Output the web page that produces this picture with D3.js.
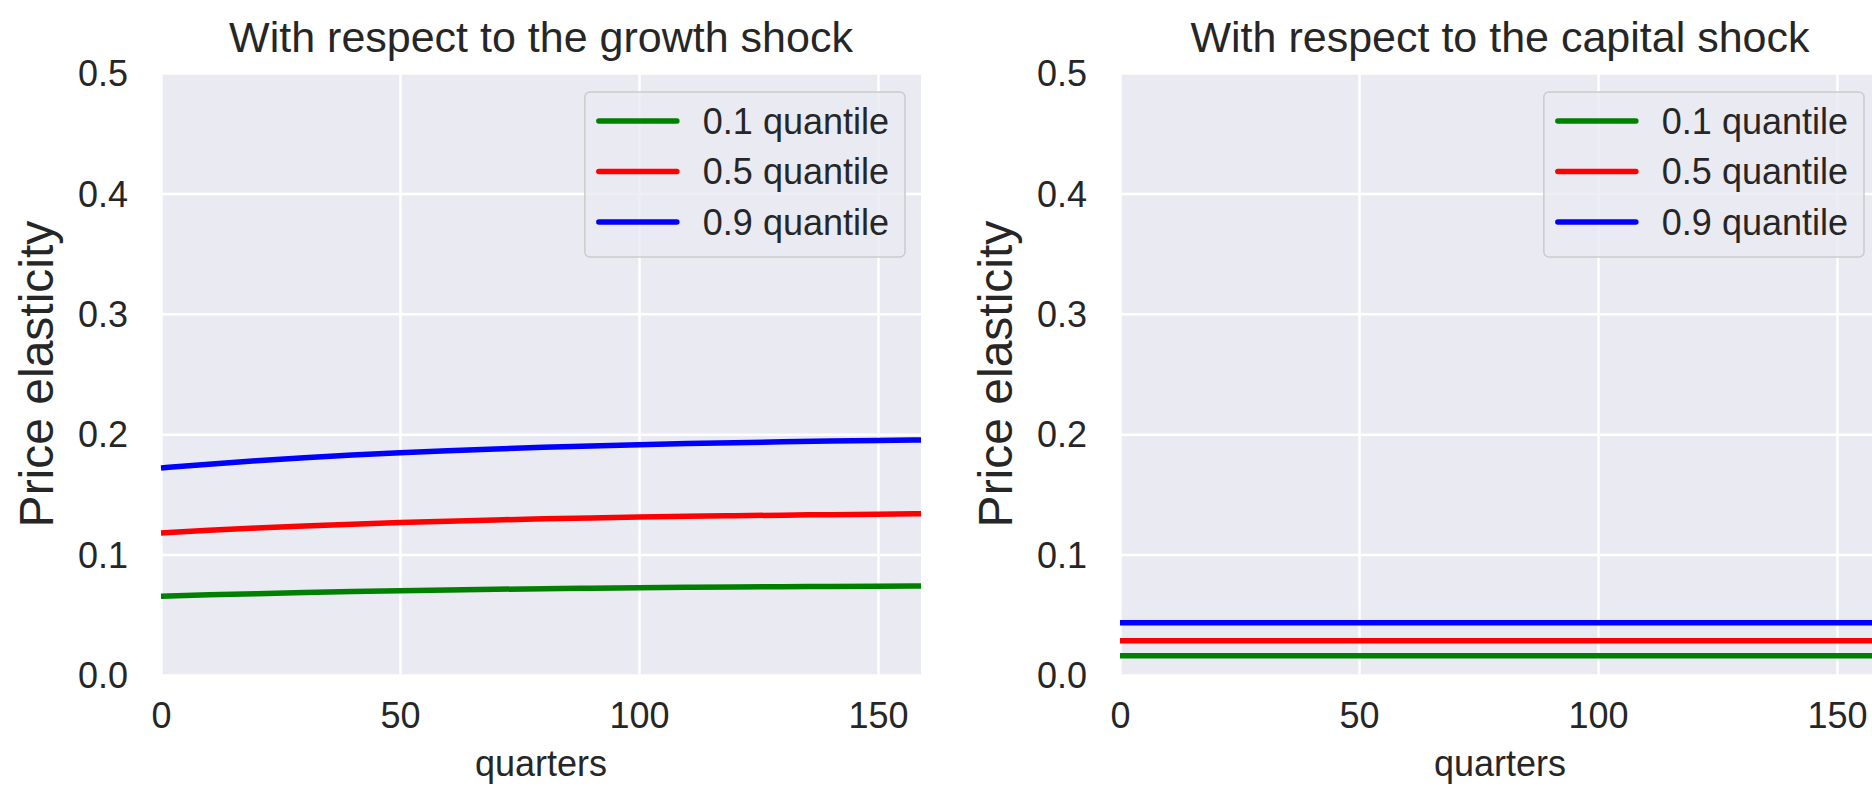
<!DOCTYPE html>
<html>
<head>
<meta charset="utf-8">
<script src="https://cdn.jsdelivr.net/npm/d3@7"></script>
<style>
  html, body { margin: 0; padding: 0; background: #ffffff; }
  svg { display: block; }
  text { font-family: "Liberation Sans", Arial, sans-serif; fill: #262626; }
</style>
</head>
<body>
<svg id="chart" width="1872" height="786"></svg>
<script>
// ---- data ----
const quarters = [0, 10, 20, 30, 40, 50, 60, 70, 80, 90, 100, 110, 120, 130, 140, 150, 159];
const seriesNames = ["0.1 quantile", "0.5 quantile", "0.9 quantile"];
const seriesColors = ["#008000", "#ff0000", "#0000ff"];

// Panel 1: with respect to the growth shock
const growthQ10 = [0.0655, 0.0666, 0.0676, 0.0685, 0.0693, 0.0700, 0.0706, 0.0712, 0.0717, 0.0721, 0.0725, 0.0728, 0.0731, 0.0734, 0.0736, 0.0738, 0.0740];
const growthQ50 = [0.1180, 0.1202, 0.1221, 0.1238, 0.1253, 0.1266, 0.1278, 0.1288, 0.1297, 0.1305, 0.1312, 0.1318, 0.1323, 0.1328, 0.1332, 0.1336, 0.1339];
const growthQ90 = [0.1720, 0.1752, 0.1780, 0.1805, 0.1827, 0.1846, 0.1863, 0.1878, 0.1891, 0.1903, 0.1913, 0.1922, 0.1930, 0.1937, 0.1943, 0.1948, 0.1952];

// Panel 2: with respect to the capital shock
const capitalQ10 = [0.016, 0.016, 0.016, 0.016, 0.016, 0.016, 0.016, 0.016, 0.016, 0.016, 0.016, 0.016, 0.016, 0.016, 0.016, 0.016, 0.016];
const capitalQ50 = [0.0285, 0.0285, 0.0285, 0.0285, 0.0285, 0.0285, 0.0285, 0.0285, 0.0285, 0.0285, 0.0285, 0.0285, 0.0285, 0.0285, 0.0285, 0.0285, 0.0285];
const capitalQ90 = [0.0435, 0.0435, 0.0435, 0.0435, 0.0435, 0.0435, 0.0435, 0.0435, 0.0435, 0.0435, 0.0435, 0.0435, 0.0435, 0.0435, 0.0435, 0.0435, 0.0435];

const titles = ["With respect to the growth shock", "With respect to the capital shock"];
const xTicks = [0, 50, 100, 150];
const yTicks = [0.0, 0.1, 0.2, 0.3, 0.4, 0.5];
const xLabel = "quarters";
const yLabel = "Price elasticity";

const panels = [
  { title: titles[0], series: [growthQ10, growthQ50, growthQ90] },
  { title: titles[1], series: [capitalQ10, capitalQ50, capitalQ90] }
];

// ---- layout ----
const svg = d3.select("#chart");
const plotLefts = [161, 1120];
const plotTop = 73, plotBottom = 675, plotWidth = 760;

panels.forEach((p, i) => {
  const left = plotLefts[i];
  const x = d3.scaleLinear().domain([0, 159]).range([left, left + plotWidth]);
  const y = d3.scaleLinear().domain([0, 0.5]).range([plotBottom, plotTop]);
  const g = svg.append("g");

  g.append("rect")
    .attr("x", left).attr("y", plotTop)
    .attr("width", plotWidth).attr("height", plotBottom - plotTop)
    .attr("fill", "#eaeaf2");

  // grid via axes
  const gx = g.append("g")
    .attr("transform", `translate(0,${plotBottom})`)
    .call(d3.axisBottom(x).tickValues(xTicks).tickSize(-(plotBottom - plotTop)).tickPadding(27).tickFormat(d3.format("d")));
  const gy = g.append("g")
    .attr("transform", `translate(${left},0)`)
    .call(d3.axisLeft(y).tickValues(yTicks).tickSize(-plotWidth).tickPadding(33).tickFormat(d3.format(".1f")));
  [gx, gy].forEach(a => {
    a.select(".domain").remove();
    a.selectAll(".tick line").attr("stroke", "#ffffff").attr("stroke-width", 2.5);
    a.selectAll(".tick text").style("font-size", "36px").attr("fill", "#262626");
  });
  gx.selectAll(".tick text").attr("dy", "0.71em");
  gy.selectAll(".tick text").attr("dy", "0.35em");

  // lines
  const line = d3.line()
    .x((d, k) => x(quarters[k]))
    .y(d => y(d))
    .curve(d3.curveBasis);
  p.series.forEach((s, k) => {
    g.append("path")
      .datum(s)
      .attr("d", line)
      .attr("fill", "none")
      .attr("stroke", seriesColors[k])
      .attr("stroke-width", 5.5)
      .attr("stroke-linecap", "butt");
  });

  // title
  g.append("text")
    .attr("x", left + plotWidth / 2).attr("y", 52)
    .attr("text-anchor", "middle")
    .style("font-size", "43px")
    .text(p.title);

  // axis labels
  g.append("text")
    .attr("x", left + plotWidth / 2).attr("y", 776)
    .attr("text-anchor", "middle")
    .style("font-size", "36px")
    .text(xLabel);
  g.append("text")
    .attr("transform", `translate(${left - 108},${(plotTop + plotBottom) / 2}) rotate(-90)`)
    .attr("text-anchor", "middle")
    .style("font-size", "48px")
    .text(yLabel);

  // legend
  const legRight = left + plotWidth - 16;
  const legTop = plotTop + 19;
  const leg = g.append("g");
  const box = leg.append("rect");
  const texts = [];
  seriesNames.forEach((name, k) => {
    const cy = legTop + 29 + k * 50.5;
    leg.append("line")
      .attr("class", "sample")
      .attr("y1", cy).attr("y2", cy)
      .attr("stroke", seriesColors[k]).attr("stroke-width", 5.5)
      .attr("stroke-linecap", "round");
    texts.push(leg.append("text")
      .attr("y", cy).attr("dy", "0.35em")
      .style("font-size", "36px")
      .text(name));
  });
  const tw = d3.max(texts, t => t.node().getComputedTextLength());
  const boxW = 14 + 78 + 26 + tw + 16;
  const legLeft = legRight - boxW;
  leg.selectAll("line.sample").attr("x1", legLeft + 14).attr("x2", legLeft + 92);
  texts.forEach(t => t.attr("x", legLeft + 118));
  box.attr("x", legLeft).attr("y", legTop)
    .attr("width", boxW).attr("height", 165)
    .attr("rx", 5).attr("ry", 5)
    .attr("fill", "#eaeaf2").attr("fill-opacity", 0.8)
    .attr("stroke", "#cccccc").attr("stroke-width", 1.5);
});
</script>
</body>
</html>
